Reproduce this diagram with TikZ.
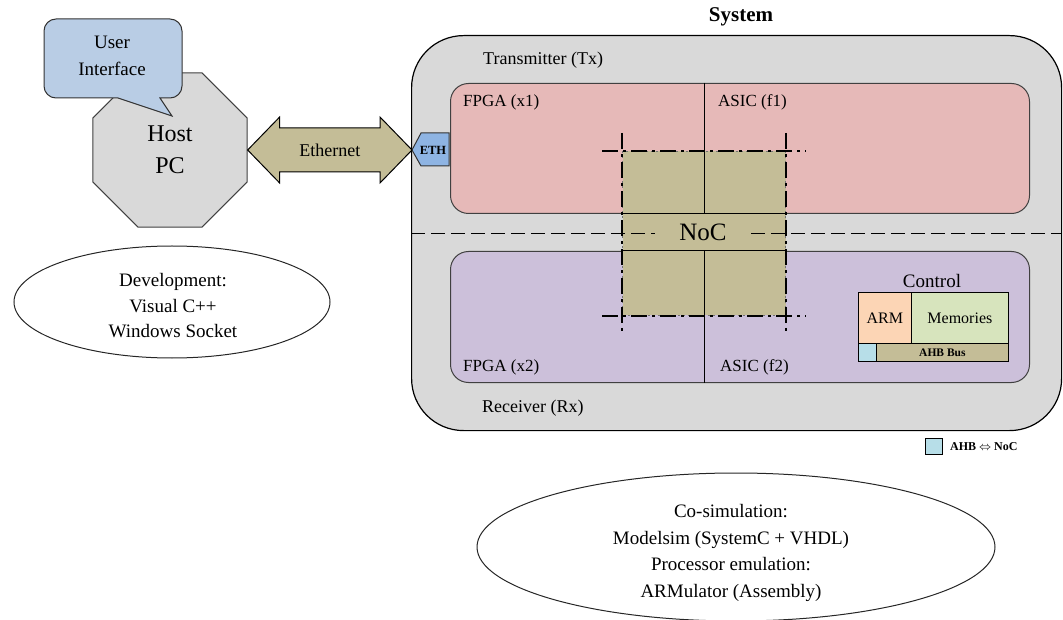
\documentclass[tikz,border=0pt]{standalone}
\usepackage{fontspec}
\setmainfont{Liberation Serif}
\usetikzlibrary{shapes.geometric,calc}
\newcommand\sz[2]{\fontsize{#1}{#2}\selectfont}
\definecolor{sysgray}{HTML}{D9D9D9}
\definecolor{txred}{HTML}{E6B9B8}
\definecolor{rxpurple}{HTML}{CCC0DA}
\definecolor{nockhaki}{HTML}{C4BD97}
\definecolor{calloutblue}{HTML}{B9CDE5}
\definecolor{ethblue}{HTML}{8EB4E3}
\definecolor{armorange}{HTML}{FCD5B5}
\definecolor{memgreen}{HTML}{D7E4BD}
\definecolor{ahbcyan}{HTML}{B7DEE8}
\begin{document}
\begin{tikzpicture}[x=1pt,y=1pt,
  txt/.style={inner sep=0pt, font=\sz{17}{20}},
  panel/.style={draw=black!75, line width=1pt, rounded corners=18pt, inner sep=0pt, anchor=north west},
  panelline/.style={draw=black, line width=1pt},
  sepline/.style={draw=black, line width=1pt, dash pattern=on 14pt off 6pt},
  crop/.style={draw=black, line width=1.3pt, dash pattern=on 16pt off 5pt on 3pt off 5pt},
  cell/.style={draw=black, line width=0.8pt, inner sep=0pt, anchor=north west},
  bubble/.style={ellipse, draw=black!85, line width=1pt, inner sep=0pt},
]
\useasboundingbox (0,0) rectangle (1063,-620);

% ---------------- system container ----------------
\node[draw=black, line width=1.2pt, fill=sysgray, rounded corners=52pt,
      anchor=north west, minimum width=650pt, minimum height=395pt, inner sep=0pt]
      (system) at (411,-35) {};
\node[font=\bfseries\sz{21}{24}, inner sep=0pt] (title) at (741,-17) {System};
\node[txt, anchor=west, font=\sz{18}{20}] (txlabel) at (483,-60) {Transmitter (Tx)};
\node[txt, anchor=west, font=\sz{18}{20}] (rxlabel) at (482,-408) {Receiver (Rx)};

% transmitter and receiver boards
\node[panel, fill=txred, minimum width=579pt, minimum height=130pt] (tx) at (450,-83) {};
\node[panel, fill=rxpurple, minimum width=579pt, minimum height=131pt] (rx) at (450,-251) {};

% network on chip
\node[fill=nockhaki, draw=black!55, line width=1pt, dash pattern=on 2pt off 3pt,
      minimum width=163pt, minimum height=164pt, inner sep=0pt, anchor=north west]
      (noc) at (622,-151) {};
\draw[panelline] (noc.west |- tx.south) -- (noc.east |- tx.south);
\draw[panelline] (noc.west |- rx.north) -- (noc.east |- rx.north);

% FPGA / ASIC split
\coordinate (divx) at (704,0);
\draw[panelline] (tx.north -| divx) -- (tx.south -| divx);
\draw[panelline] (rx.north -| divx) -- (rx.south -| divx);

% Tx / Rx boundary
\draw[sepline] (system.west) -- (system.east);

% crop marks around the NoC
\draw[crop] ($(noc.north west)+(0,18)$) -- ($(noc.south west)+(0,-18)$);
\draw[crop] ($(noc.north east)+(0,18)$) -- ($(noc.south east)+(0,-18)$);
\draw[crop] ($(noc.north west)+(-20,0)$) -- ($(noc.north east)+(20,0)$);
\draw[crop] ($(noc.south west)+(-20,0)$) -- ($(noc.south east)+(20,0)$);
\node[fill=nockhaki, inner xsep=24pt, inner ysep=2pt, font=\sz{25}{28}]
      (noclabel) at (703,-232) {NoC};

% board labels
\node[txt, anchor=west] (fpga1) at (463,-102) {FPGA (x1)};
\node[txt, anchor=west] (asic1) at (718,-102) {ASIC (f1)};
\node[txt, anchor=west] (fpga2) at (463,-367) {FPGA (x2)};
\node[txt, anchor=west] (asic2) at (720,-367) {ASIC (f2)};

% control block
\node[txt, font=\sz{19}{22}] (ctrllabel) at (932,-281) {Control};
\node[cell, fill=armorange, minimum width=53pt, minimum height=51pt] (arm) at (858,-292) {};
\node[txt, font=\sz{16}{18}] at (arm.center) {ARM};
\node[cell, fill=memgreen, minimum width=97pt, minimum height=51pt] (mem) at (911,-292) {};
\node[txt, font=\sz{16}{18}] at (mem.center) {Memories};
\node[cell, fill=ahbcyan, minimum width=18pt, minimum height=18pt] (bridge) at (858,-343) {};
\node[cell, fill=nockhaki, minimum width=132pt, minimum height=18pt] (ahb) at (876,-343) {};
\node[txt, font=\bfseries\sz{11.5}{13}] at (ahb.center) {AHB Bus};
\node[draw=black, line width=1.3pt, minimum width=150pt, minimum height=69pt,
      inner sep=0pt, anchor=north west] (control) at (858,-292) {};

% legend
\node[cell, line width=1pt, fill=ahbcyan, minimum width=17pt, minimum height=16pt] (legendsq) at (925,-438) {};
\node[anchor=west, inner sep=0pt, font=\bfseries\sz{12}{14}] (legendtxt)
      at ($(legendsq.east)+(7,0)$) {AHB $\Leftrightarrow$ NoC};

% ---------------- host side ----------------
\node[regular polygon, regular polygon sides=8, minimum size=167pt, draw=black!75,
      line width=1pt, fill=sysgray, inner sep=0pt, align=center, font=\sz{24}{32}]
      (host) at (170,-150) {Host\\PC};

% speech bubble
\draw[draw=black!80, line width=1pt, fill=calloutblue]
  (56,-19) -- (170,-19) arc[start angle=90, end angle=0, radius=12pt]
  -- (182,-86) arc[start angle=0, end angle=-90, radius=12pt]
  -- (160,-98) -- (172,-116) -- (118,-98)
  -- (56,-98) arc[start angle=270, end angle=180, radius=12pt]
  -- (44,-31) arc[start angle=180, end angle=90, radius=12pt] -- cycle;
\node[inner sep=0pt, align=center, font=\sz{19}{27}] (ui) at (112,-56) {User\\Interface};

% Ethernet port tab
\coordinate (ethtip) at (412,-150);
\draw[draw=black!80, line width=1pt, fill=ethblue]
  (ethtip) -- (421,-133) -- (449,-133) -- (449,-166) -- (421,-166) -- cycle;
\node[inner sep=0pt, font=\bfseries\sz{12.5}{14}] (eth) at (433,-150) {ETH};

% Ethernet link
\draw[draw=black, line width=1pt, fill=nockhaki]
  (host.east) -- ++(32,33) -- ++(0,-11) -- ($(ethtip)+(-32,22)$) -- ++(0,11)
  -- (ethtip) -- ++(-32,-33) -- ++(0,11) -- ($(host.east)+(32,-22)$) -- ++(0,-11) -- cycle;
\node[inner sep=0pt, font=\sz{18}{20}] (ethlabel) at ($(host.east)!0.5!(ethtip)$) {Ethernet};

% tool notes
\node[bubble, minimum width=316pt, minimum height=112pt] (dev) at (172,-302) {};
\node[inner sep=0pt, align=center, font=\sz{19}{25.5}] (devtext) at (173,-306)
  {Development:\\Visual C++\\Windows Socket};
\node[bubble, minimum width=518pt, minimum height=148pt] (cosim) at (736,-547) {};
\node[inner sep=0pt, align=center, font=\sz{19}{26.7}] (cosimtext) at (731,-553)
  {Co-simulation:\\Modelsim (SystemC + VHDL)\\Processor emulation:\\ARMulator (Assembly)};
\end{tikzpicture}
\end{document}
